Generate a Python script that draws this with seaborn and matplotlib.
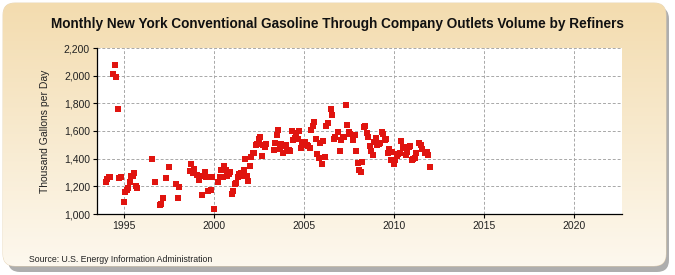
import numpy as np
import pandas as pd
import matplotlib
matplotlib.use('Agg')
import matplotlib.pyplot as plt
from matplotlib.patches import FancyBboxPatch
from matplotlib.ticker import FuncFormatter
import seaborn as sns

nan = np.nan

# -------------------------
# Datos mensuales (miles de galones por día), ene 1994 - ene 2012
# -------------------------
v1994 = [1232, 1252, 1266, 1271, nan, 2015, 2080, 1993, 1761, 1261, 1266, nan]
v1995 = [1087, 1160, 1177, 1191, 1228, 1275, 1273, 1295, 1203, 1189, nan, nan]
v1996 = [nan, nan, nan, nan, nan, nan, nan, 1399, nan, 1232, nan, nan]
v1997 = [1065, 1072, 1116, nan, 1261, nan, 1341, nan, nan, nan, nan, 1217]
v1998 = [1116, 1194, nan, nan, nan, nan, nan, nan, 1312, 1363, 1297, 1324]
v1999 = [nan, 1283, 1247, 1276, 1138, 1273, 1302, 1268, 1165, nan, 1172, 1266]
v2000 = [1036, nan, nan, 1232, 1268, 1317, 1268, 1346, 1317, 1273, 1286, 1304]
v2001 = [1148, 1167, 1215, 1225, 1268, 1288, 1297, 1276, 1317, 1397, 1273, 1237]
v2002 = [1346, 1413, 1438, 1442, 1498, 1503, 1541, 1558, 1420, 1498, 1486, 1505]
v2003 = [nan, nan, nan, nan, 1465, 1510, 1571, 1607, 1469, 1507, 1440, 1490]
v2004 = [1498, 1459, 1466, 1452, 1597, 1534, 1546, 1587, 1539, 1600, 1476, 1522]
v2005 = [1510, 1522, 1498, 1491, 1474, 1607, 1636, 1663, 1539, 1431, 1402, 1515]
v2006 = [1360, 1529, 1413, 1634, 1660, nan, 1759, 1718, 1539, 1558, nan, 1595]
v2007 = [1459, 1534, 1558, 1558, 1790, 1641, 1595, 1578, nan, 1534, 1570, 1459]
v2008 = [1369, 1317, 1304, 1376, 1627, 1634, 1583, 1554, 1491, 1459, 1428, 1522]
v2009 = [1551, 1498, 1505, 1515, 1595, 1578, 1534, 1542, 1442, 1469, 1389, 1445]
v2010 = [1359, 1393, 1420, 1437, 1438, 1525, 1486, 1474, 1425, 1450, 1481, 1491]
v2011 = [1389, 1394, 1402, 1438, nan, 1510, 1498, 1469, nan, 1438, 1450, 1425]
v2012 = [1341]

years = list(range(1994, 2013))
series = [v1994, v1995, v1996, v1997, v1998, v1999, v2000, v2001, v2002, v2003,
          v2004, v2005, v2006, v2007, v2008, v2009, v2010, v2011, v2012]

xticks = [1995, 2000, 2005, 2010, 2015, 2020]
yticks = [1000, 1200, 1400, 1600, 1800, 2000, 2200]

TITLE = 'Monthly New York Conventional Gasoline Through Company Outlets Volume by Refiners'
YLAB = 'Thousand Gallons per Day'
SOURCE = 'Source: U.S. Energy Information Administration'

rows = []
for yr, vals in zip(years, series):
    for i, v in enumerate(vals):
        rows.append({'t': yr + i / 12.0, 'v': v})
df = pd.DataFrame(rows).dropna()

# -------------------------
# Figura
# -------------------------
sns.set_style('white')
plt.rcParams['font.family'] = ['Liberation Sans', 'DejaVu Sans']

W, H = 675, 275
fig = plt.figure(figsize=(W / 100, H / 100), dpi=100)

# fondo con degradado y sombra
bg = fig.add_axes([0, 0, 1, 1], zorder=-5)
bg.set_xlim(0, W)
bg.set_ylim(0, H)
bg.axis('off')
shadow = FancyBboxPatch((8, 3), W - 14, H - 10, boxstyle='round,pad=0,rounding_size=12',
                        facecolor='#9a9a9a', edgecolor='none', alpha=0.8)
bg.add_patch(shadow)
box = FancyBboxPatch((3, 9), W - 12, H - 12, boxstyle='round,pad=0,rounding_size=12',
                     facecolor='none', edgecolor='#e6d2b0', linewidth=0.6)
bg.add_patch(box)
top_c = np.array([243, 220, 175]) / 255
bot_c = np.array([253, 248, 238]) / 255
fr = np.linspace(0, 1, 256)[:, None]
grad = (top_c * (1 - fr) + bot_c * fr)[:, None, :]
im = bg.imshow(grad, extent=(3, W - 9, 9, H - 3), aspect='auto', origin='upper', zorder=1)
im.set_clip_path(box)

ax = fig.add_axes([97 / W, 1 - 214 / H, (622 - 97) / W, (214 - 48) / H])
ax.set_facecolor('white')

sns.scatterplot(data=df, x='t', y='v', marker='s', color='#e0140f', s=15,
                linewidth=0, ax=ax, zorder=3, legend=False)

ax.set_xlim(1993.5, 2022.67)
ax.set_ylim(1000, 2200)
ax.set_xticks(xticks)
ax.set_yticks(yticks)
ax.yaxis.set_major_formatter(FuncFormatter(lambda v, p: f'{int(v):,}'))
ax.grid(True, color='#a8a8a8', linestyle=(0, (3, 2)), linewidth=0.7)
ax.set_axisbelow(True)
for s in ['top', 'right']:
    ax.spines[s].set_visible(False)
for s in ['left', 'bottom']:
    ax.spines[s].set_color('black')
    ax.spines[s].set_linewidth(0.9)
ax.tick_params(axis='both', which='major', labelsize=7.5, length=3, width=0.8,
               color='black', direction='out', pad=2, labelcolor='#222222')
ax.tick_params(left=True, bottom=True)
ax.set_xlabel('')
ax.set_ylabel(YLAB, fontsize=7.5, color='#222222', labelpad=10)

fig.text(0.5, 1 - 24 / H, TITLE, ha='center', va='center', fontsize=9.8, fontweight='bold',
         color='#111111')
fig.text(29 / W, 1 - 259 / H, SOURCE, ha='left', va='center', fontsize=6.3, color='#222222')

fig.savefig('out.png', dpi=100)
